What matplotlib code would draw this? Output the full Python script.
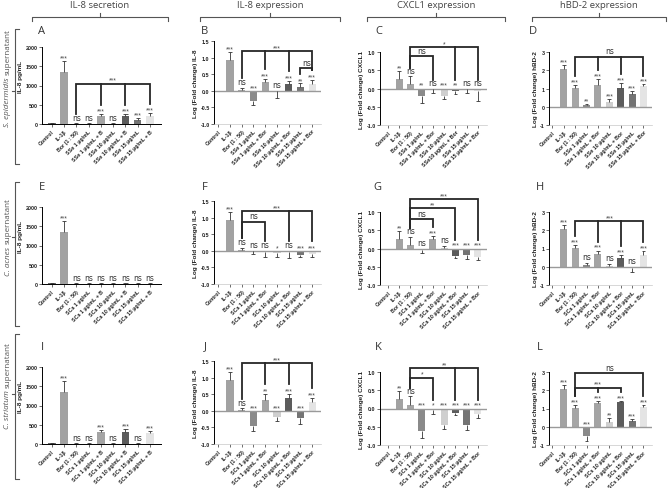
import numpy as np
import matplotlib.pyplot as plt

plt.rcParams['font.family'] = ['Liberation Sans', 'DejaVu Sans']
plt.rcParams['axes.unicode_minus'] = False

# --- values (index: Control, IL-1b, Bor, x1, x1+Bor, x10, x10+Bor, x15, x15+Bor)
A_mean = [15, 1340, 10, 10, 220, 10, 210, 100, 200]
A_err = [5, 290, 5, 5, 40, 5, 50, 60, 80]
A_sig = ['', '***', 'ns', 'ns', '***', 'ns', '***', '***', '***']
A_brk = [(2, [4, 6, 8], 1050, '***')]

B_mean = [0, 0.94, 0.02, -0.32, 0.27, -0.02, 0.20, 0.12, 0.20]
B_err = [0, 0.22, 0.06, 0.11, 0.10, 0.20, 0.10, 0.10, 0.13]
B_sig = ['', '***', 'ns', '***', '***', 'ns', '***', '**', '***']
B_brk = [(2, [4, 6, 8], 1.2, '***'), (7, [8], 0.68, 'ns')]

C_mean = [0, 0.26, 0.11, -0.21, -0.02, -0.21, -0.08, -0.02, -0.08]
C_err = [0, 0.23, 0.22, 0.18, 0.10, 0.08, 0.08, 0.10, 0.25]
C_sig = ['', '**', 'ns', '**', 'ns', '***', '**', 'ns', 'ns']
C_brk = [(2, [6, 8], 1.13, '*'), (2, [4], 0.88, 'ns')]

D_mean = [0, 2.08, 1.05, 0.08, 1.20, 0.28, 1.05, 0.72, 1.12]
D_err = [0, 0.22, 0.13, 0.08, 0.33, 0.12, 0.25, 0.16, 0.10]
D_sig = ['', '***', '***', '**', '***', '***', '***', '***', '***']
D_brk = [(2, [4, 6, 8], 2.75, 'ns')]

E_mean = [15, 1340, 10, 10, 10, 10, 10, 10, 10]
E_err = [5, 290, 5, 5, 5, 5, 5, 5, 5]
E_sig = ['', '***', 'ns', 'ns', 'ns', 'ns', 'ns', 'ns', 'ns']
E_brk = []

F_mean = [0, 0.94, 0.02, -0.02, -0.03, -0.07, -0.05, -0.13, -0.10]
F_err = [0, 0.22, 0.06, 0.08, 0.15, 0.13, 0.16, 0.05, 0.10]
F_sig = ['', '***', 'ns', 'ns', 'ns', '*', 'ns', '***', '***']
F_brk = [(2, [6, 8], 1.2, '***'), (2, [4], 0.88, 'ns')]

G_mean = [0, 0.25, 0.10, -0.03, 0.27, 0.02, -0.20, -0.18, -0.22]
G_err = [0, 0.23, 0.22, 0.10, 0.07, 0.05, 0.05, 0.10, 0.10]
G_sig = ['', '**', 'ns', 'ns', '***', 'ns', '***', '***', '***']
G_brk = [(2, [8], 1.35, '***'), (2, [6], 1.11, '**'), (2, [4], 0.8, 'ns')]

H_mean = [0, 2.08, 1.05, 0.08, 0.72, 0.05, 0.48, -0.08, 0.62]
H_err = [0, 0.22, 0.13, 0.15, 0.17, 0.12, 0.18, 0.20, 0.25]
H_sig = ['', '***', '***', 'ns', '***', 'ns', '***', 'ns', '***']
H_brk = [(2, [4, 6, 8], 2.5, '***')]

I_mean = [15, 1340, 10, 10, 320, 10, 320, 10, 280]
I_err = [5, 290, 5, 5, 40, 5, 60, 5, 60]
I_sig = ['', '***', 'ns', 'ns', '***', 'ns', '***', 'ns', '***']
I_brk = []

J_mean = [0, 0.94, 0.02, -0.47, 0.33, -0.18, 0.38, -0.22, 0.28]
J_err = [0, 0.22, 0.05, 0.14, 0.17, 0.14, 0.12, 0.17, 0.10]
J_sig = ['', '***', 'ns', '***', '**', '***', '***', '***', '***']
J_brk = [(2, [4, 6, 8], 1.43, '***')]

K_mean = [0, 0.25, 0.10, -0.63, -0.05, -0.45, -0.12, -0.46, -0.15]
K_err = [0, 0.22, 0.23, 0.17, 0.10, 0.12, 0.05, 0.12, 0.12]
K_sig = ['', '**', 'ns', '***', '*', '***', '***', '***', '***']
K_brk = [(2, [6, 8], 1.1, '**'), (2, [4], 0.84, '*')]

L_mean = [0, 2.08, 1.05, -0.50, 1.28, 0.25, 1.33, 0.30, 1.08]
L_err = [0, 0.20, 0.13, 0.30, 0.12, 0.22, 0.08, 0.15, 0.10]
L_sig = ['', '***', '***', '***', '***', '**', '***', '***', '***']
L_brk = [(2, [8], 2.93, 'ns'), (2, [4, 6], 2.14, '***')]

headers = ['IL-8 secretion', 'IL-8 expression', 'CXCL1 expression', 'hBD-2 expression']
species = ['S. epidermidis', 'C. acnes', 'C. striatum']
prefixes = ['SSe', 'SCa', 'SCs']
ylabels = ['IL-8 pg/mL', 'Log (Fold change) IL-8', 'Log (Fold change) CXCL1', 'Log (Fold change) hBD-2']

bar_colors = ['#6e6e6e', '#a2a2a2', '#a6a6a6', '#8a8a8a', '#a4a4a4',
              '#cfcfcf', '#5c5c5c', '#747474', '#e4e4e4']


def make_labels(p, suffix, gap=' '):
    return ['Control', 'IL-1β', 'Bor (1 : 50)',
            f'{p} 1 µg/mL', f'{p} 1 µg/mL + {suffix}',
            f'{p} 10 µg/mL', f'{p}{gap}10 µg/mL + {suffix}',
            f'{p} 15 µg/mL', f'{p} 15 µg/mL + {suffix}']


W, H = 669, 489
fig = plt.figure(figsize=(W / 100, H / 100), dpi=100)

# overlay in pixel units for headers / brackets
ov = fig.add_axes([0, 0, 1, 1])
ov.set_xlim(0, W)
ov.set_ylim(H, 0)
ov.axis('off')


def px_axes(left, top, right, bottom):
    return fig.add_axes([left / W, 1 - bottom / H, (right - left) / W, (bottom - top) / H])


col_lr = [(42, 161), (214, 321), (380, 487), (549, 652)]
col_tb = [(48, 125), (42, 125), (53, 126), (53, 126)]
col_xlim = [(-0.8, 8.9), (-0.35, 8.75), (-0.7, 8.8), (-0.3, 8.75)]
col_ylim = [(0, 2000), (-1.0, 1.5), (-1.0, 1.0), (-1, 3)]
col_yticks = [[0, 500, 1000, 1500, 2000],
              [-1.0, -0.5, 0.0, 0.5, 1.0, 1.5],
              [-1.0, -0.5, 0.0, 0.5, 1.0],
              [-1, 0, 1, 2, 3]]
col_fmt = ['{:.0f}', '{:.1f}', '{:.1f}', '{:.0f}']
col_ylab_y = [0.62, 0.5, 0.5, 0.5]
row_off = [0, 160, 320]
letter_pos = [[(41, 32), (205, 32), (379, 32), (533, 32)],
              [(42, 188), (205, 188), (377, 188), (540, 188)],
              [(42, 347), (205, 347), (378, 347), (540, 347)]]

panels = [
    [(A_mean, A_err, A_sig, A_brk), (B_mean, B_err, B_sig, B_brk),
     (C_mean, C_err, C_sig, C_brk), (D_mean, D_err, D_sig, D_brk)],
    [(E_mean, E_err, E_sig, E_brk), (F_mean, F_err, F_sig, F_brk),
     (G_mean, G_err, G_sig, G_brk), (H_mean, H_err, H_sig, H_brk)],
    [(I_mean, I_err, I_sig, I_brk), (J_mean, J_err, J_sig, J_brk),
     (K_mean, K_err, K_sig, K_brk), (L_mean, L_err, L_sig, L_brk)],
]
letters = 'ABCDEFGHIJKL'
star_fs = 4.8
ns_fs = 5.5

for r in range(3):
    for c in range(4):
        mean, err, sig, brk = panels[r][c]
        mean = np.asarray(mean, float)
        err = np.asarray(err, float)
        l, rt = col_lr[c]
        t, b = col_tb[c]
        ax = px_axes(l, t + row_off[r], rt, b + row_off[r])
        x = np.arange(len(mean))
        ylo, yhi = col_ylim[c]
        rng = yhi - ylo

        ax.bar(x, mean, width=0.62, color=bar_colors, edgecolor='none', zorder=2)
        tip = np.where(mean >= 0, mean + err, mean - err)
        show = (err > 0) & (mean != 0)
        ax.vlines(x[show], mean[show], tip[show], color='#333333', lw=0.6, zorder=3)
        ax.hlines(tip[show], x[show] - 0.17, x[show] + 0.17, color='#333333', lw=0.6, zorder=3)
        if c > 0:
            ax.axhline(0, color='#9a9a9a', lw=1.0, zorder=2.5)

        top = np.where(mean >= 0, mean + err, 0)
        txt_y = top + 0.02 * rng
        for xi, ty, s in zip(x, txt_y, sig):
            if not s:
                continue
            if s == 'ns':
                ax.text(xi, ty, s, ha='center', va='bottom', fontsize=ns_fs,
                        color='#333333', family='DejaVu Sans', clip_on=False)
            else:
                ax.text(xi, ty - 0.025 * rng, s, ha='center', va='bottom', fontsize=star_fs,
                        color='#444444', clip_on=False)

        for x0, targets, yb, lab in brk:
            x1 = targets[-1]
            low0 = min(txt_y[x0] + 0.1 * rng, yb)
            low1 = min(txt_y[x1] + 0.1 * rng, yb)
            ax.plot([x0, x0, x1, x1], [low0, yb, yb, low1], color='#262626', lw=1.3,
                    solid_joinstyle='miter', clip_on=False, zorder=4)
            for xt in targets[:-1]:
                ax.plot([xt, xt], [min(txt_y[xt] + 0.1 * rng, yb), yb], color='#262626',
                        lw=1.3, clip_on=False, zorder=4)
            if lab == 'ns':
                ax.text((x0 + x1) / 2, yb + 0.015 * rng, lab, ha='center', va='bottom',
                        fontsize=ns_fs, color='#333333', family='DejaVu Sans', clip_on=False)
            else:
                ax.text((x0 + x1) / 2, yb, lab, ha='center', va='bottom',
                        fontsize=star_fs, color='#444444', clip_on=False)

        ax.set_xlim(*col_xlim[c])
        ax.set_ylim(ylo, yhi)
        ax.set_yticks(col_yticks[c])
        ax.set_yticklabels([col_fmt[c].format(v) for v in col_yticks[c]],
                           fontsize=3.9, fontweight='bold', color='#222222')
        if c == 0:
            labs = make_labels(prefixes[r], 'B')
        else:
            labs = make_labels(prefixes[r], 'Bor', '' if (r == 0 and c == 2) else ' ')
        ax.set_xticks(x)
        ax.set_xticklabels(labs, rotation=45, ha='right', rotation_mode='anchor',
                           fontsize=3.8, fontweight='bold', color='#222222')
        ax.set_ylabel(ylabels[c], fontsize=4.6, fontweight='bold', labelpad=1.5, color='#222222')
        ax.yaxis.label.set_y(col_ylab_y[c])
        for s in ['top', 'right']:
            ax.spines[s].set_visible(False)
        ax.spines['left'].set_linewidth(0.7)
        if c == 0:
            ax.spines['bottom'].set_linewidth(0.7)
        else:
            ax.spines['bottom'].set_color('#c8c8c8')
            ax.spines['bottom'].set_linewidth(0.5)
        ax.tick_params(axis='both', length=2, width=0.5, pad=1.2, color='#333333')
        ax.patch.set_alpha(0)

        lx, ly = letter_pos[r][c]
        ov.text(lx, ly, letters[r * 4 + c], ha='center', va='center', fontsize=8,
                family='Open Sans', color='#333333')

# column headers with braces
header_span = [(32, 168), (200, 340), (367, 505), (532, 666)]
for name, (x0, x1) in zip(headers, header_span):
    xm = (x0 + x1) / 2
    ov.text(xm, 5, name, ha='center', va='center', fontsize=6.8, family='Open Sans', color='#444444')
    ov.plot([x0, x0, x1, x1], [22, 18, 18, 22], color='#555555', lw=0.8)
    ov.plot([xm, xm], [18, 13.5], color='#555555', lw=0.8)

# row labels with braces: italic species name followed by "supernatant"
row_span = [(30, 165), (183, 327), (335, 480)]
row_tick = [92, 238, 395]
row_lab_y = [78, 237, 386]
renderer = fig.canvas.get_renderer()
for sp, (y0, y1), yt, yl in zip(species, row_span, row_tick, row_lab_y):
    ov.plot([19, 15, 15, 19], [y0, y0, y1, y1], color='#555555', lw=0.8)
    ov.plot([15, 11.5], [yt, yt], color='#555555', lw=0.8)
    t1 = ov.text(8, yl, sp, rotation=90, ha='center', va='top', fontsize=5.8,
                 family='Open Sans', style='italic', color='#555555')
    t2 = ov.text(8, yl, 'supernatant', rotation=90, ha='center', va='bottom', fontsize=5.8,
                 family='Open Sans', color='#555555')
    h1 = t1.get_window_extent(renderer).height
    h2 = t2.get_window_extent(renderer).height
    gap = 2.0
    total = h1 + h2 + gap
    split = yl + total / 2 - h1
    t1.set_y(split)
    t2.set_y(split - gap)

fig.savefig('out.png', dpi=100)
